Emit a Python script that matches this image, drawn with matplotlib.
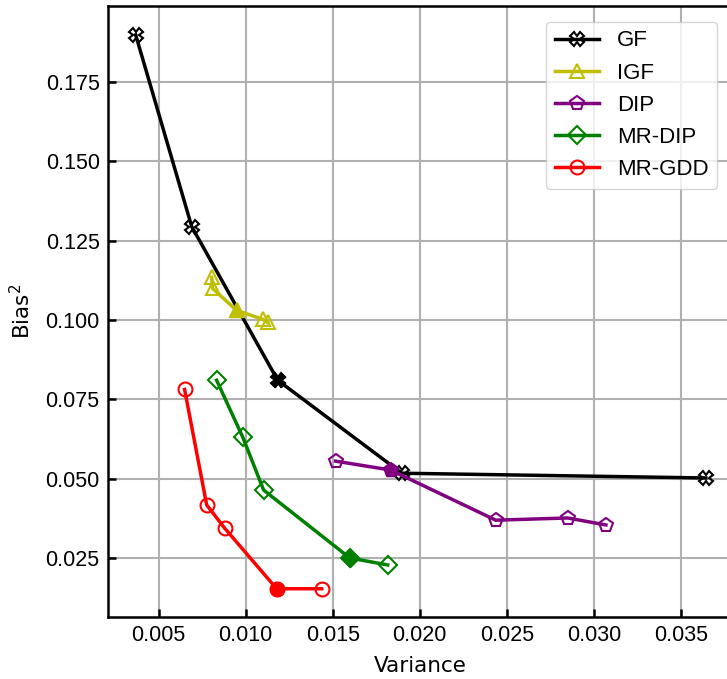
import numpy as np
import matplotlib.pyplot as plt

# variance / bias^2
gf_var = [0.00368, 0.0069, 0.01184, 0.01897, 0.03644]
gf_bias = [0.1898, 0.1294, 0.0810, 0.0517, 0.0502]
gf_best = 2

igf_var = [0.00805, 0.0081, 0.00948, 0.01098, 0.01126]
igf_bias = [0.1134, 0.1099, 0.1030, 0.1002, 0.0992]
igf_best = 2

dip_var = [0.01517, 0.01833, 0.02437, 0.0285, 0.0307]
dip_bias = [0.0555, 0.0527, 0.0369, 0.0376, 0.0354]
dip_best = 1

mrdip_var = [0.00833, 0.00983, 0.01103, 0.01598, 0.01816]
mrdip_bias = [0.0810, 0.0631, 0.0464, 0.0250, 0.0228]
mrdip_best = 3

mrgdd_var = [0.00649, 0.00776, 0.00879, 0.01178, 0.01437]
mrgdd_bias = [0.0781, 0.0417, 0.0344, 0.0153, 0.0153]
mrgdd_best = 3

series = [
    ('GF', gf_var, gf_bias, gf_best, 'k', 'X'),
    ('IGF', igf_var, igf_bias, igf_best, 'y', '^'),
    ('DIP', dip_var, dip_bias, dip_best, 'purple', 'p'),
    ('MR-DIP', mrdip_var, mrdip_bias, mrdip_best, 'green', 'D'),
    ('MR-GDD', mrgdd_var, mrgdd_bias, mrgdd_best, 'red', 'o'),
]

plt.rcParams['font.family'] = ['Liberation Sans', 'DejaVu Sans']
fig = plt.figure(figsize=(7.27, 6.79), dpi=100)
# axes runs a little past the right edge, as in the cropped reference
ax = fig.add_axes([108 / 727, 62 / 679, 625 / 727, 611 / 679])

for name, xs, ys, best, color, marker in series:
    ms = 10 if marker != 'D' else 9.5
    ax.plot(xs, ys, color=color, lw=2.5, marker=marker, ms=ms,
            mfc='none', mec=color, mew=1.5, label=name, zorder=3)
    ax.plot(xs[best], ys[best], color=color, marker=marker, ms=ms,
            mfc=color, mec=color, ls='none', zorder=4)

ax.set_xlim(0.00209, 0.0380)
ax.set_ylim(0.0064, 0.1989)
ax.set_xticks([0.005, 0.010, 0.015, 0.020, 0.025, 0.030, 0.035])
ax.set_yticks([0.025, 0.050, 0.075, 0.100, 0.125, 0.150, 0.175])
ax.grid(True, color='#b0b0b0', lw=1.5)
ax.set_axisbelow(True)
for sp in ax.spines.values():
    sp.set_linewidth(1.8)
ax.tick_params(direction='in', labelsize=15.5, width=1.8, length=6, pad=6)
ax.set_xlabel('Variance', fontsize=15.5, family='DejaVu Sans', labelpad=7)
ax.set_ylabel('Bias$^2$', fontsize=15.5, family='DejaVu Sans', labelpad=8)
ax.legend(loc='upper right', fontsize=16, borderaxespad=0.7)

fig.savefig('out.png', dpi=100)
